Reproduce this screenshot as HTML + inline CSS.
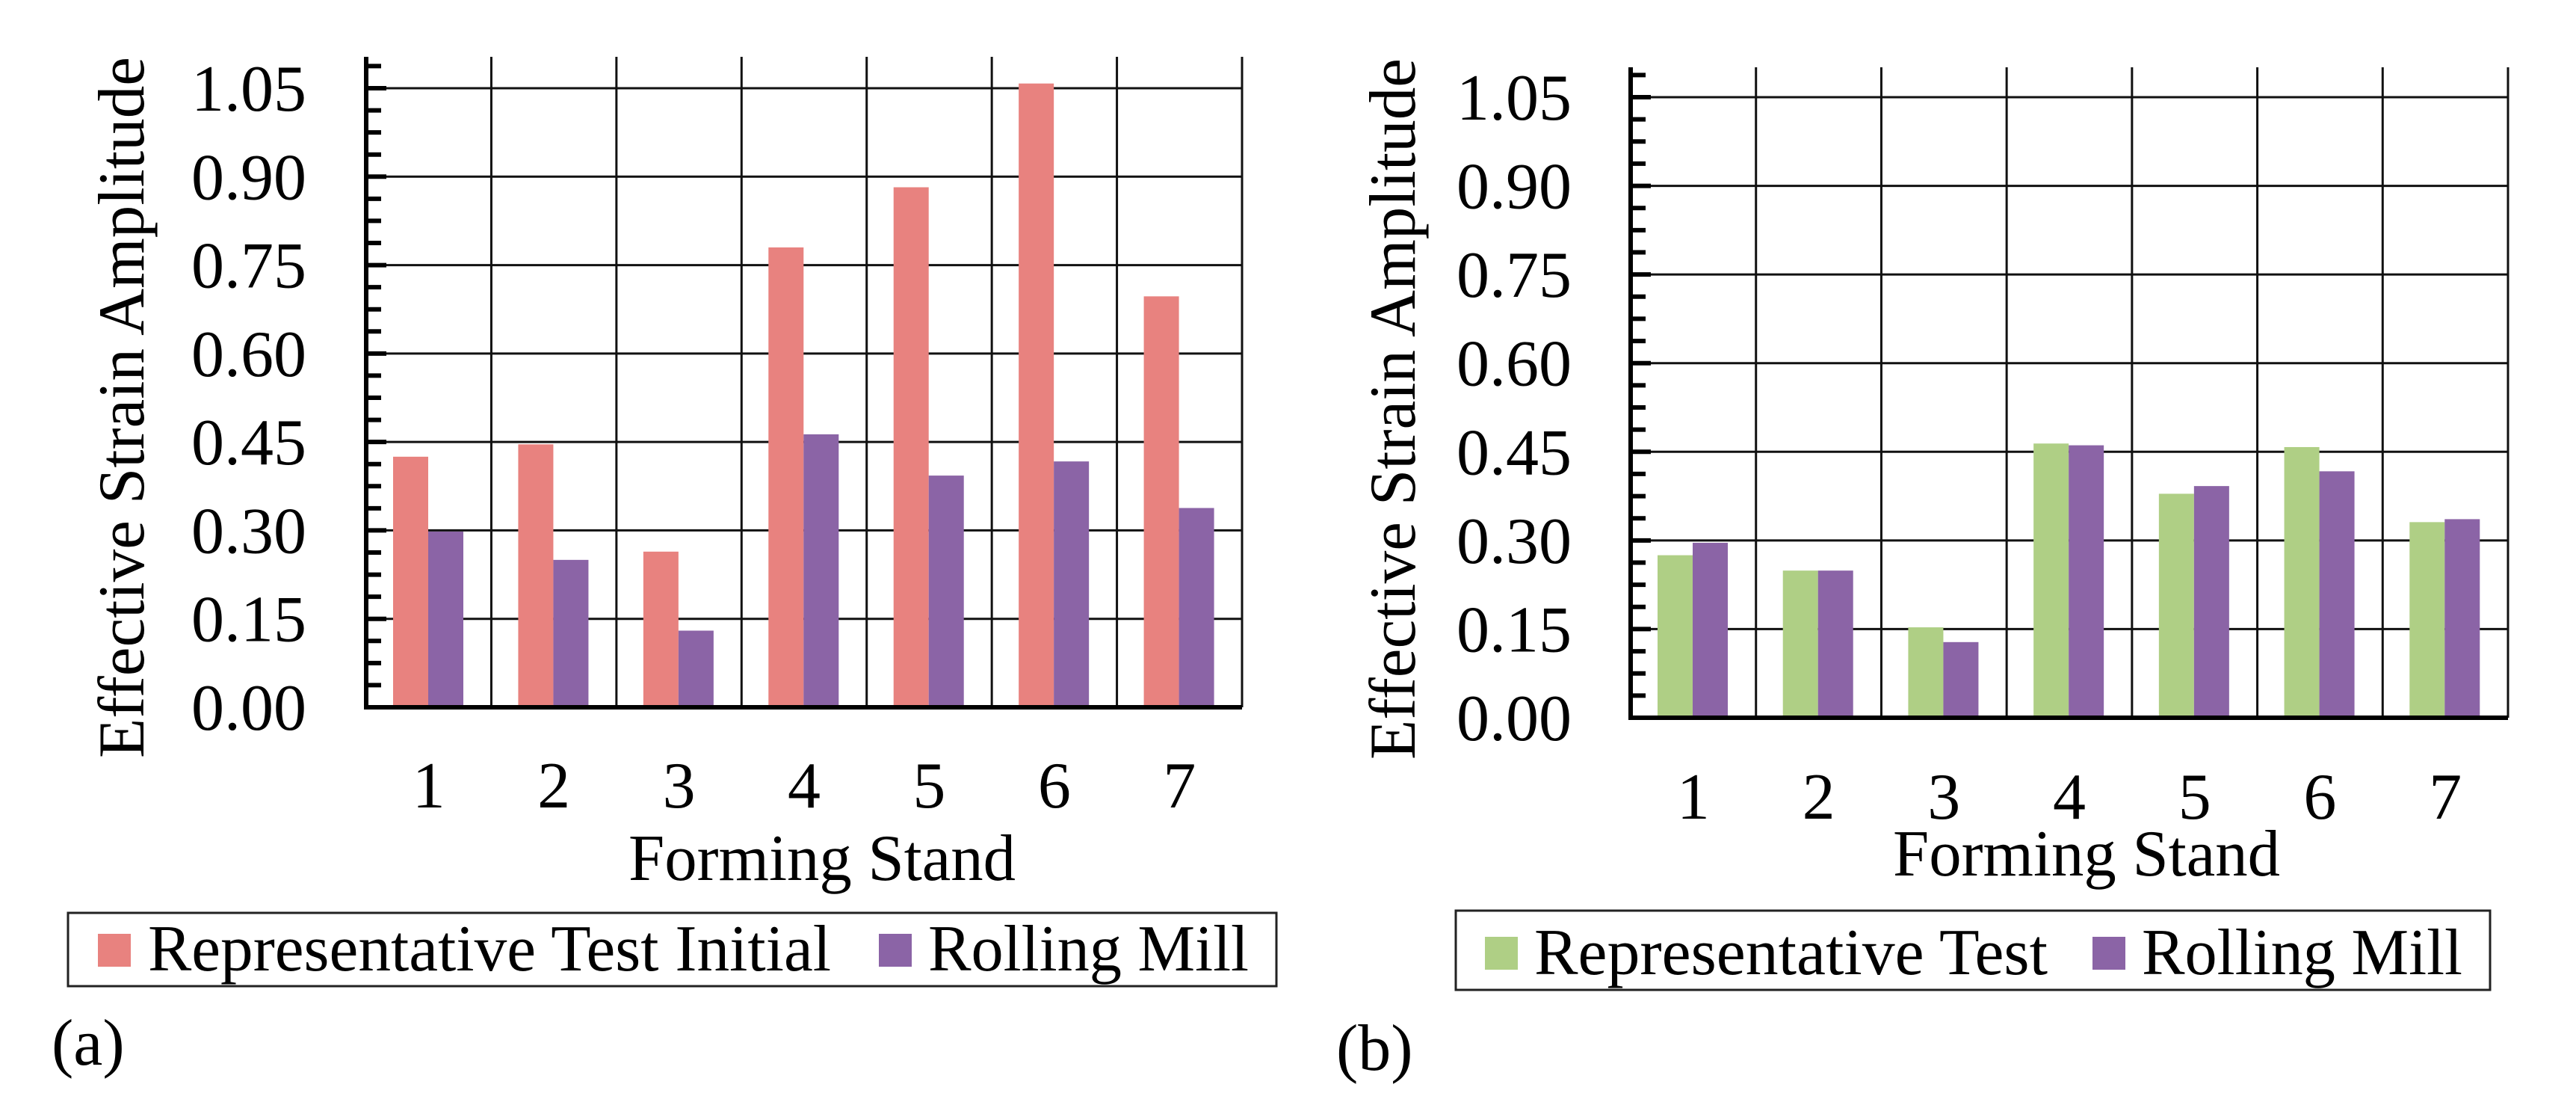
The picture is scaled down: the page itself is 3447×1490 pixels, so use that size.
<!DOCTYPE html>
<html><head><meta charset="utf-8"><style>
html,body{margin:0;padding:0;background:#fff;}
svg, svg text{font-family:"Liberation Serif","Times New Roman","DejaVu Serif",serif;}
</style></head><body>
<svg id="fig" width="3447" height="1485" viewBox="0 0 3447 1485" xmlns="http://www.w3.org/2000/svg"></svg>
<script>
const categories = ["1","2","3","4","5","6","7"];
const yTicks = [0, 0.15, 0.30, 0.45, 0.60, 0.75, 0.90, 1.05];
const yTickLabels = ["0.00","0.15","0.30","0.45","0.60","0.75","0.90","1.05"];
const aInitial = [0.425, 0.446, 0.264, 0.780, 0.882, 1.058, 0.697];
const aMill = [0.298, 0.250, 0.130, 0.463, 0.393, 0.417, 0.338];
const bTest = [0.275, 0.249, 0.153, 0.464, 0.379, 0.458, 0.331];
const bMill = [0.296, 0.249, 0.128, 0.461, 0.392, 0.417, 0.336];

const NS = "http://www.w3.org/2000/svg";
const FONT = '"Liberation Serif", "Times New Roman", "DejaVu Serif", serif';
const svg = document.getElementById("fig");
function mk(tag, attrs, parent, text){
  const e = document.createElementNS(NS, tag);
  for (const k in attrs) e.setAttribute(k, attrs[k]);
  if (text !== undefined) { e.textContent = text; e.setAttribute("font-family", FONT); }
  (parent || svg).appendChild(e);
  return e;
}

function chart(cfg){
  const g = mk("g", {});
  
  
  const x0 = cfg.x0, x1 = cfg.x1, y0 = cfg.y0, yTop = cfg.yTop, top = cfg.top;
  const yScale = v => y0 - (v / 1.05) * (y0 - yTop);
  const cw = (x1 - x0) / categories.length;
  const xCat = i => x0 + i * cw;
  yTicks.forEach((t, i) => {
    if (i === 0) return;
    const l = mk("line", {x1: x0, x2: x1, y1: yScale(t), y2: yScale(t), stroke: "#111", "stroke-width": 3}, g);
    
    
  });
  for (let i = 1; i <= categories.length; i++) {
    const l = mk("line", {x1: xCat(i), x2: xCat(i), y1: top, y2: y0, stroke: "#111", "stroke-width": 3}, g);
    
    
  }
  const bw = 47;
  categories.forEach((c, i) => {
    const s1 = cfg.s1[i], s2 = cfg.s2[i];
    const bx = xCat(i) + 36;
    const r1 = mk("rect", {x: bx, y: yScale(s1), width: bw, height: y0 - yScale(s1), fill: cfg.c1}, g);
    
    
    const r2 = mk("rect", {x: bx + bw, y: yScale(s2), width: bw, height: y0 - yScale(s2), fill: cfg.c2}, g);
    
    
    const t = mk("text", {x: xCat(i) + cw / 2, y: cfg.xLabY, "font-size": 88, "text-anchor": "middle"}, g, c);
    
    
  });
  for (let m = 0; m <= 29; m++) {
    const v = m * 0.0375;
    const major = m % 4 === 0;
    const l = mk("line", {x1: x0, x2: x0 + (major ? 27 : 20), y1: yScale(v), y2: yScale(v), stroke: "#000", "stroke-width": 6}, g);
    
    
  }
  yTicks.forEach((t, i) => {
    const tl = mk("text", {x: cfg.yLabX, y: yScale(t) + 30, "font-size": 88, "text-anchor": "end"}, g, yTickLabels[i]);
    
    
  });
  const ay = mk("line", {x1: x0, x2: x0, y1: top, y2: y0 + 3, stroke: "#000", "stroke-width": 6}, g);
  
  
  const ax = mk("line", {x1: x0 - 3, x2: x1, y1: y0, y2: y0, stroke: "#000", "stroke-width": 6}, g);
  
  
  const yt = mk("text", {x: 0, y: 0, "font-size": 88, "text-anchor": "middle", textLength: 938, lengthAdjust: "spacingAndGlyphs",
    transform: "translate(" + (cfg.yTitleX + 30) + "," + cfg.yTitleY + ") rotate(-90)"}, g, "Effective Strain Amplitude");
  
  
  const xt = mk("text", {x: cfg.xTitleX, y: cfg.xTitleY, "font-size": 88, "text-anchor": "middle", textLength: 518, lengthAdjust: "spacingAndGlyphs"}, g, "Forming Stand");
  
  
  const L = cfg.leg;
  const lg = mk("g", {}, g);
  
  
  const box = mk("rect", {x: L.x, y: L.y, width: L.w, height: L.h, fill: "#fff", stroke: "#222", "stroke-width": 3}, lg);
  
  
  const sw1 = mk("rect", {x: L.s1x, y: L.sy, width: 44, height: 44, fill: cfg.c1}, lg);
  
  
  const t1 = mk("text", {x: L.t1x, y: L.ty, "font-size": 88, textLength: L.t1w, lengthAdjust: "spacingAndGlyphs"}, lg, L.t1);
  
  
  const sw2 = mk("rect", {x: L.s2x, y: L.sy, width: 44, height: 44, fill: cfg.c2}, lg);
  
  
  const t2 = mk("text", {x: L.t2x, y: L.ty, "font-size": 88, textLength: L.t2w, lengthAdjust: "spacingAndGlyphs"}, lg, "Rolling Mill");
  
  
  const pl = mk("text", {x: cfg.panelX, y: cfg.panelY, "font-size": 88}, g, cfg.panel);
  
  
}

chart({name: "chart-a", x0: 490, x1: 1662, y0: 946, yTop: 118, top: 76,
  s1: aInitial, s2: aMill, c1: "#E8827F", c2: "#8B64A6", k1: "representative-test-initial",
  xLabY: 1080, yLabX: 410, yTitleX: 162, yTitleY: 545, xTitleX: 1100, xTitleY: 1177,
  leg: {x: 91, y: 1221, w: 1617, h: 98, s1x: 131, sy: 1249, t1x: 198, t1w: 914, t1: "Representative Test Initial", s2x: 1176, t2x: 1242, t2w: 429, ty: 1298},
  panel: "(a)", panelX: 69, panelY: 1424});

chart({name: "chart-b", x0: 2182, x1: 3356, y0: 960, yTop: 130, top: 90,
  s1: bTest, s2: bMill, c1: "#AFCF85", c2: "#8B64A6", k1: "representative-test",
  xLabY: 1095, yLabX: 2103, yTitleX: 1863, yTitleY: 547, xTitleX: 2792, xTitleY: 1171,
  leg: {x: 1948, y: 1218, w: 1384, h: 106, s1x: 1987, sy: 1253, t1x: 2053, t1w: 687, t1: "Representative Test", s2x: 2800, t2x: 2866, t2w: 429, ty: 1303},
  panel: "(b)", panelX: 1788, panelY: 1431});
</script>
</body></html>
